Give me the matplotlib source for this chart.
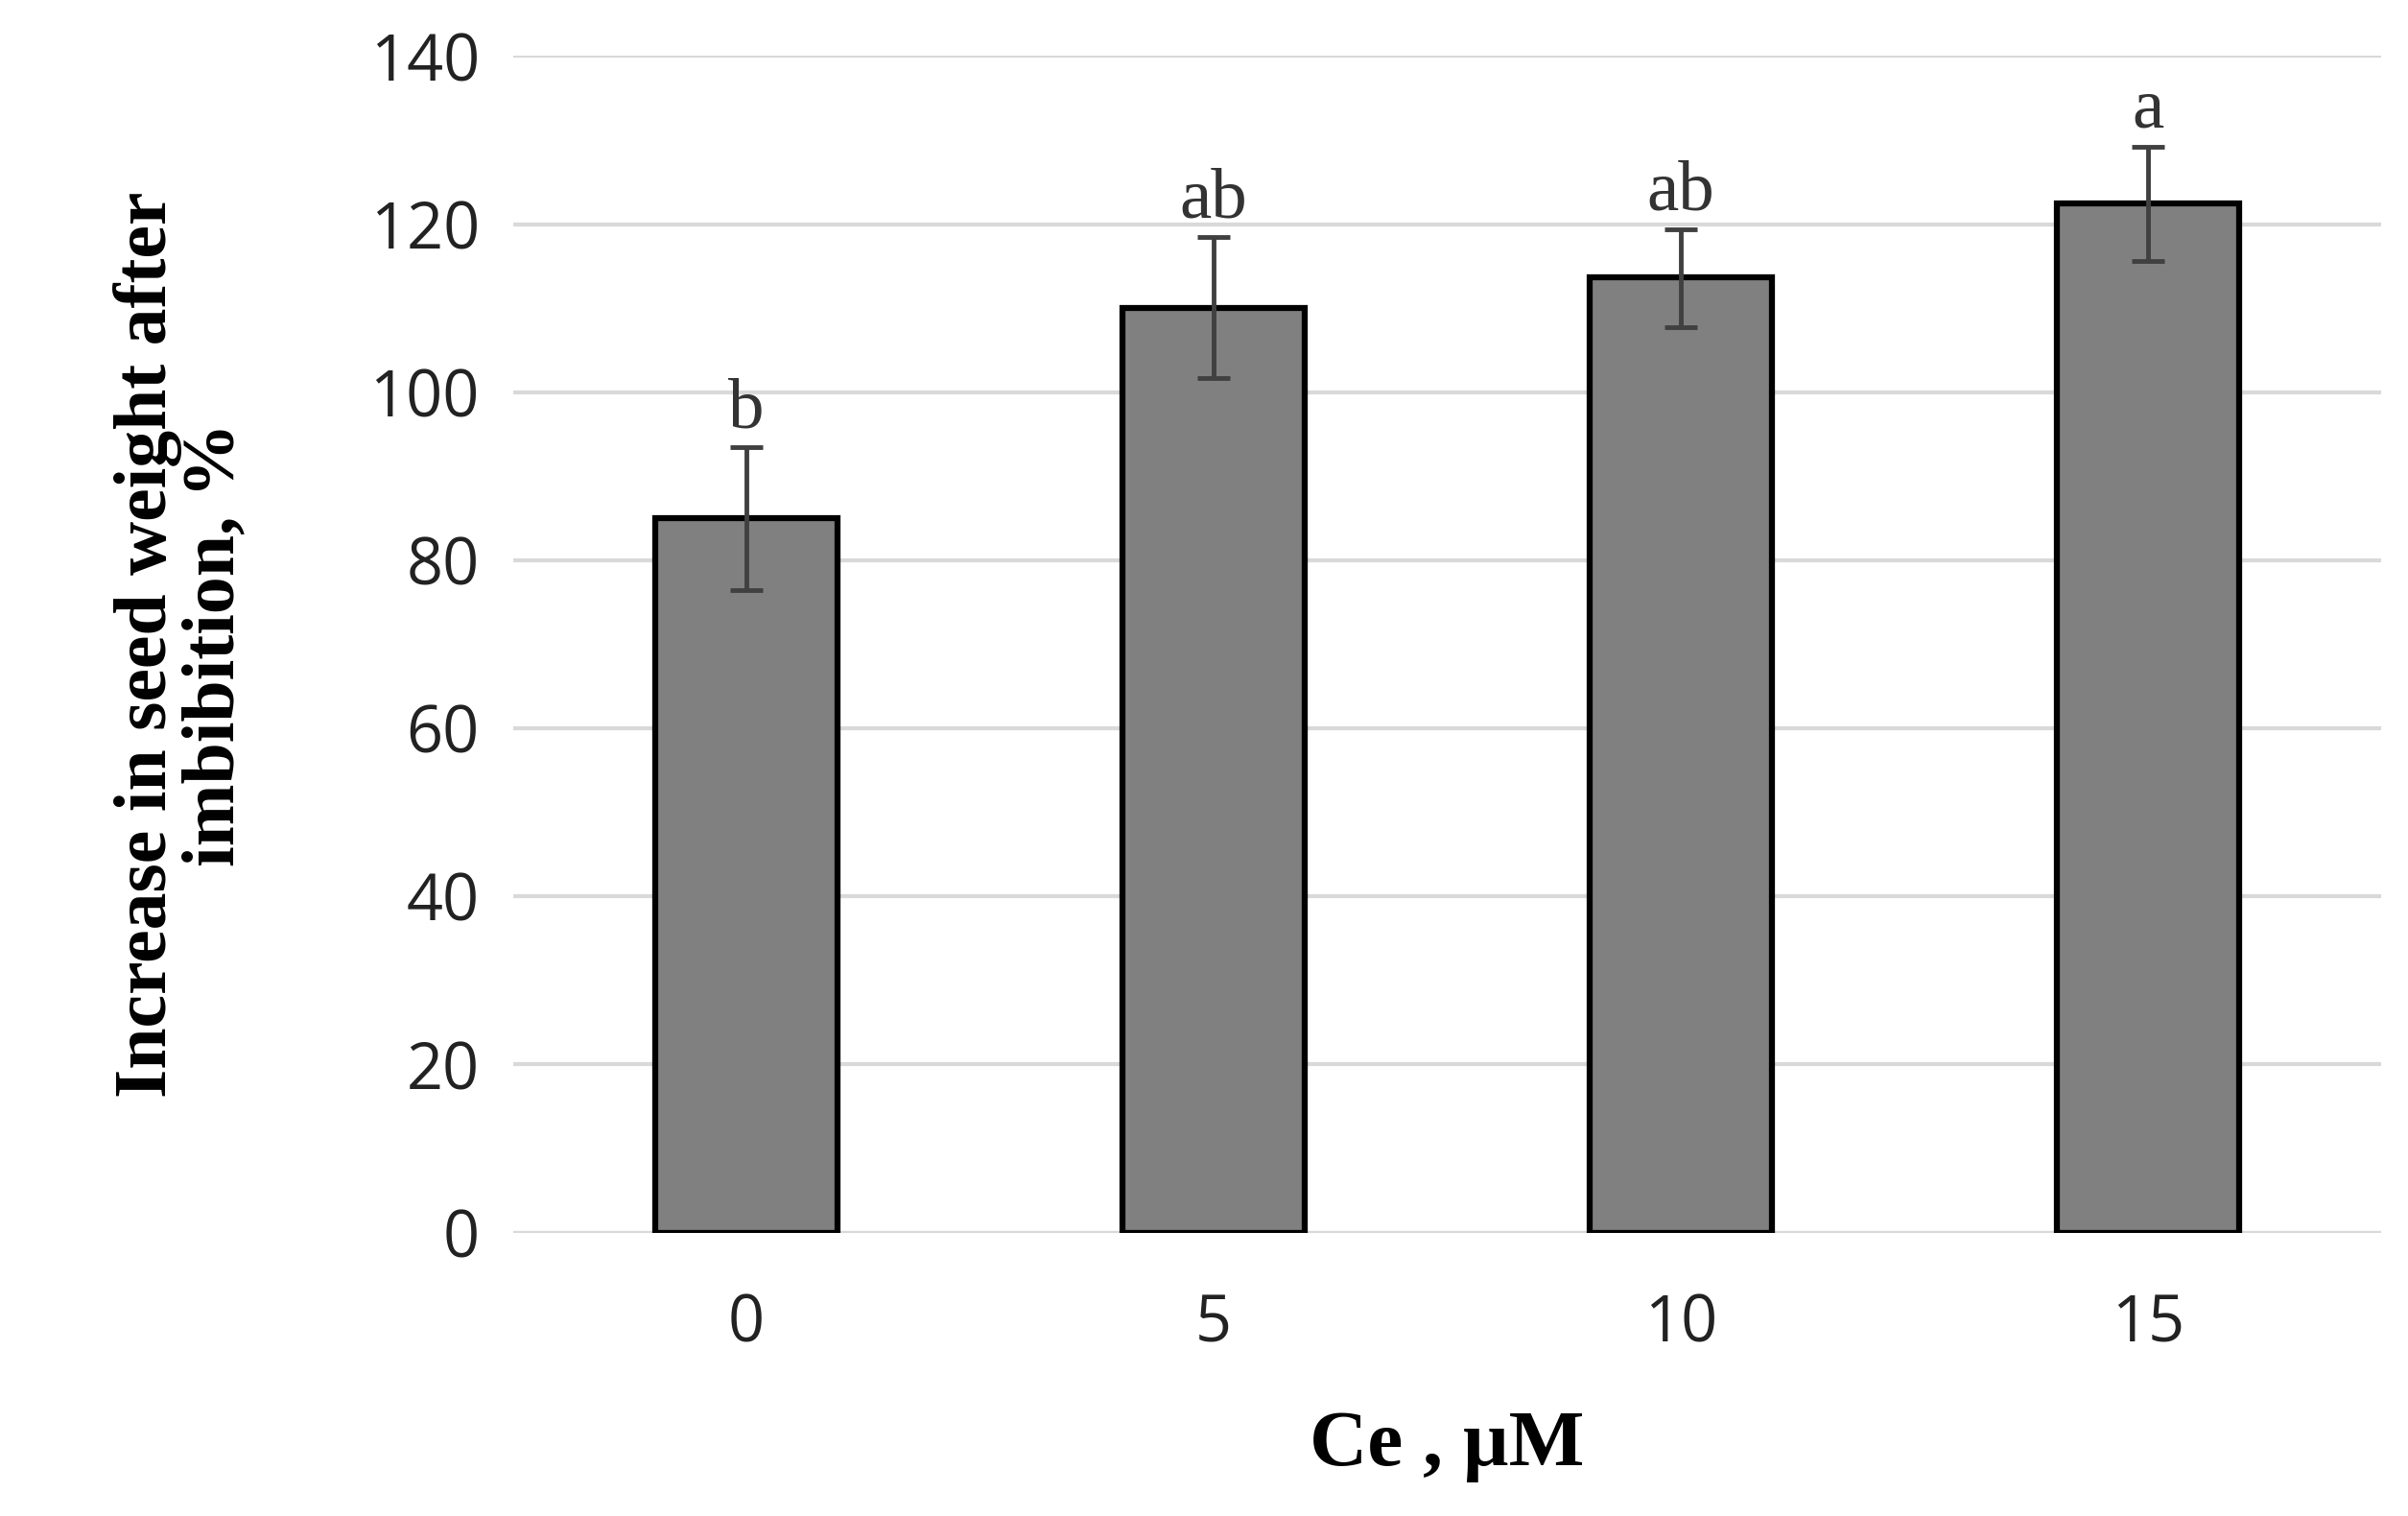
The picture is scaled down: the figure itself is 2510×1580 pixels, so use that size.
import matplotlib
matplotlib.use("Agg")
import matplotlib.pyplot as plt
import numpy as np

categories = ["0", "5", "10", "15"]
values = [85, 110, 113.7, 122.5]
err_low = [8.5, 8.3, 6.0, 6.9]
err_high = [8.5, 8.5, 5.7, 6.7]
letters = ["b", "ab", "ab", "a"]

fig = plt.figure(figsize=(25.1, 15.8), dpi=100)
ax = fig.add_axes([0.213, 0.187, 0.776, 0.776])
x = np.arange(len(categories))
ax.bar(x, values, width=0.39, color="#808080", edgecolor="black", linewidth=4.5, zorder=3)
ax.errorbar(x, values, yerr=[err_low, err_high], fmt="none", ecolor="#404040",
            elinewidth=3.5, capsize=12, capthick=3.5, zorder=4)
for xi, v, eh, l in zip(x, values, err_high, letters):
    ax.text(xi, v + eh + 0.5, l, ha="center", va="bottom", fontsize=54,
            family="Liberation Serif", color="#333333")
ax.set_xlim(-0.5, 3.5)
ax.set_ylim(0, 140)
ax.set_yticks(range(0, 141, 20))
ax.set_xticks(x)
ax.set_xticklabels(categories)
ax.yaxis.grid(True, color="#d9d9d9", linewidth=3, zorder=0)
for s in ax.spines.values():
    s.set_visible(False)
ax.axhline(0, color="#d9d9d9", linewidth=3, zorder=1)
ax.tick_params(length=0, labelsize=48, pad=25, colors="#222222")
for t in ax.get_xticklabels() + ax.get_yticklabels():
    t.set_family("Open Sans")
ax.tick_params(axis="x", pad=45)
ax.set_xlabel("Ce , µM", fontsize=60, family="Liberation Serif", fontweight="bold", labelpad=40)
ax.set_ylabel("Increase in seed weight after\nimbibition, %", fontsize=56,
              family="Liberation Serif", fontweight="bold", labelpad=90, linespacing=1.0)
fig.savefig("out.png", dpi=100)
